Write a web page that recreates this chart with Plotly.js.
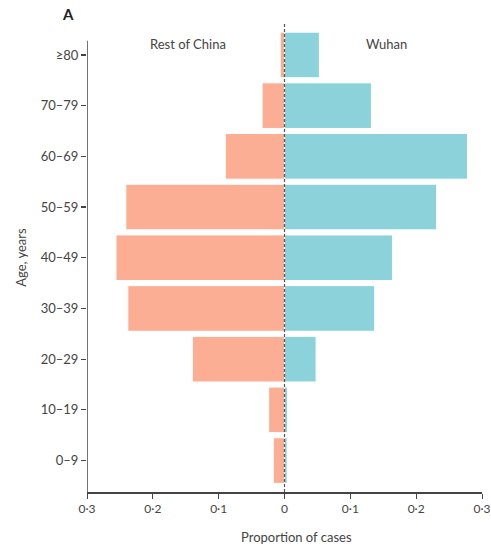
<!DOCTYPE html>
<html><head><meta charset="utf-8">
<script src="https://cdn.plot.ly/plotly-3.0.1.min.js"></script>
<style>body{margin:0;background:#fff}#chart{width:491px;height:547px}</style>
</head><body><div id="chart"></div>
<script>
const ageGroups = ["0–9","10–19","20–29","30–39","40–49","50–59","60–69","70–79","≥80"];
const restOfChina = [0.017,0.024,0.140,0.238,0.256,0.241,0.090,0.034,0.0065];
const wuhan = [0.004,0.0045,0.048,0.137,0.164,0.231,0.278,0.132,0.053];
const xTickVals = [-0.3,-0.2,-0.1,0,0.1,0.2,0.3];
const xTickText = ["0·3","0·2","0·1","0","0·1","0·2","0·3"];
const seriesNames = ["Rest of China","Wuhan"];

const font = "Lato, 'Open Sans', sans-serif";
const gray = "#444";

const traces = [
  {type:"bar", orientation:"h", name:seriesNames[0], y:ageGroups, x:restOfChina.map(v=>-v),
   marker:{color:"#FBAE93", line:{color:"#fff", width:1}}, width:0.9},
  {type:"bar", orientation:"h", name:seriesNames[1], y:ageGroups, x:wuhan,
   marker:{color:"#8CD2DA", line:{color:"#fff", width:1}}, width:0.9}
];

const layout = {
  width:491, height:547,
  margin:{l:87, r:9, t:23, b:55},
  paper_bgcolor:"#fff", plot_bgcolor:"#fff",
  barmode:"overlay", bargap:0.1, showlegend:false,
  font:{family:font, color:gray, size:13},
  xaxis:{range:[-0.3,0.3], tickvals:xTickVals, ticktext:xTickText, showgrid:false, zeroline:false,
         showline:true, linecolor:gray, linewidth:1.5, ticks:"outside", ticklen:5, tickcolor:gray,
         tickfont:{size:12, color:gray}, fixedrange:true},
  yaxis:{type:"category", categoryarray:ageGroups, range:[-0.62,8.63], showgrid:false, zeroline:false,
         showline:false, ticks:"outside", ticklen:5, tickcolor:gray, tickwidth:1.2,
         tickfont:{size:13, color:gray}, fixedrange:true},
  shapes:[
    {type:"line", xref:"x", yref:"y", x0:-0.3, x1:-0.3, y0:-0.62, y1:8.28, line:{color:gray, width:1.5}},
    {type:"line", xref:"x", yref:"paper", x0:0, x1:0, y0:0, y1:1, line:{color:"#555", width:1.2, dash:"3px,2px"}}
  ],
  annotations:[
    {text:"<b>A</b>", xref:"paper", yref:"paper", x:-0.048, y:1.02, xanchor:"center", yanchor:"middle", showarrow:false, font:{size:15, color:"#222"}},
    {text:seriesNames[0], xref:"x", yref:"paper", x:-0.147, y:0.955, xanchor:"center", yanchor:"middle", showarrow:false, font:{size:13, color:gray}},
    {text:seriesNames[1], xref:"x", yref:"paper", x:0.155, y:0.955, xanchor:"center", yanchor:"middle", showarrow:false, font:{size:13, color:gray}},
    {text:"Proportion of cases", xref:"x", yref:"paper", x:0.018, y:-0.095, xanchor:"center", yanchor:"middle", showarrow:false, font:{size:13, color:gray}},
    {text:"Age, years", xref:"paper", yref:"y", x:-0.167, y:4, textangle:-90, xanchor:"center", yanchor:"middle", showarrow:false, font:{size:13, color:gray}}
  ]
};
Plotly.newPlot("chart", traces, layout, {displayModeBar:false, staticPlot:true});
</script></body></html>
